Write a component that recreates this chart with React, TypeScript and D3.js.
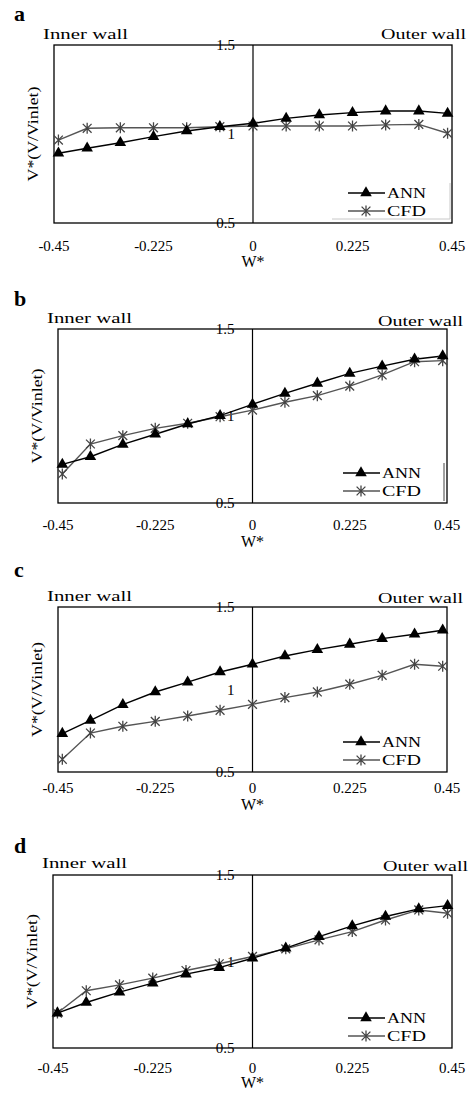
import React from 'react';
import * as d3 from 'd3';

// W* positions across the duct (inner wall -> outer wall)
const wPos = [-0.44, -0.375, -0.3, -0.225, -0.15, -0.075, 0, 0.075, 0.15, 0.225, 0.3, 0.375, 0.44];
const xTicks = [-0.45, -0.225, 0, 0.225, 0.45];
const yTicks = [0.5, 1, 1.5];

const annA = [0.892, 0.92, 0.951, 0.985, 1.017, 1.041, 1.06, 1.088, 1.107, 1.12, 1.129, 1.129, 1.116];
const cfdA = [0.966, 1.032, 1.035, 1.035, 1.035, 1.041, 1.045, 1.045, 1.045, 1.045, 1.051, 1.054, 1.004];

const annB = [0.722, 0.766, 0.837, 0.895, 0.954, 1.002, 1.067, 1.13, 1.188, 1.245, 1.287, 1.326, 1.345];
const cfdB = [0.667, 0.839, 0.887, 0.929, 0.958, 0.996, 1.034, 1.079, 1.117, 1.172, 1.236, 1.312, 1.318];

const annC = [0.733, 0.813, 0.908, 0.985, 1.045, 1.106, 1.153, 1.203, 1.242, 1.274, 1.308, 1.335, 1.359];
const cfdC = [0.577, 0.736, 0.777, 0.807, 0.839, 0.874, 0.91, 0.951, 0.985, 1.032, 1.086, 1.153, 1.141];

const annD = [0.702, 0.763, 0.823, 0.875, 0.927, 0.965, 1.019, 1.077, 1.144, 1.206, 1.26, 1.304, 1.323];
const cfdD = [0.702, 0.831, 0.865, 0.904, 0.948, 0.987, 1.029, 1.073, 1.125, 1.173, 1.24, 1.298, 1.279];

const FONT = '"Liberation Serif", "Times New Roman", serif';

// layout of each panel (pixels in the page)
const panels = [
  { letter: 'a', ann: annA, cfd: cfdA, x0: 54, x1: 452, y0: 45, y1: 223, letterY: 21, innerY: 39, outerY: 39, outerX: 466, tickY: 251, wY: 267, ylabX: 33, frame: 'a' },
  { letter: 'b', ann: annB, cfd: cfdB, x0: 58, x1: 447, y0: 329, y1: 503, letterY: 306, innerY: 323, outerY: 326, outerX: 463, tickY: 530, wY: 547, ylabX: 37, frame: 'b' },
  { letter: 'c', ann: annC, cfd: cfdC, x0: 58, x1: 447, y0: 607, y1: 772, letterY: 577, innerY: 601, outerY: 603, outerX: 463, tickY: 793, wY: 810, ylabX: 37, frame: '' },
  { letter: 'd', ann: annD, cfd: cfdD, x0: 53, x1: 452, y0: 875, y1: 1048, letterY: 853, innerY: 868, outerY: 871, outerX: 468, tickY: 1073, wY: 1088, ylabX: 32, frame: '' },
];

const triangle = d3.symbol(d3.symbolTriangle, 58)();

const asterisk = (cx: number, cy: number, r: number) => {
  const d = r * 0.8;
  return `M${cx},${cy - r}L${cx},${cy + r}M${cx - d},${cy - d}L${cx + d},${cy + d}M${cx - d},${cy + d}L${cx + d},${cy - d}`;
};

const Panel = ({ p }: { p: typeof panels[number] }) => {
  const x = d3.scaleLinear().domain([-0.45, 0.45]).range([p.x0, p.x1]);
  const y = d3.scaleLinear().domain([0.5, 1.5]).range([p.y1, p.y0]);
  const line = d3.line<number>().x((_, i) => x(wPos[i])).y((v) => y(v));
  const xc = x(0);
  const legX = p.x1 - 104;
  const legY1 = y(0.5) - 30;
  const legY2 = y(0.5) - 12;

  return (
    <g fontFamily={FONT} fill="#000">
      <text x={14} y={p.letterY} fontSize={22} fontWeight="bold">{p.letter}</text>
      <text x={p.x0 - 11} y={p.innerY} fontSize={15} textLength={85} lengthAdjust="spacingAndGlyphs">Inner wall</text>
      <text x={p.outerX} y={p.outerY} fontSize={15} textAnchor="end" textLength={85} lengthAdjust="spacingAndGlyphs">Outer wall</text>

      <rect x={p.x0} y={p.y0} width={p.x1 - p.x0} height={p.y1 - p.y0} fill="none" stroke="#000" strokeWidth={1.3} />
      <line x1={xc} x2={xc} y1={p.y0} y2={p.y1} stroke="#000" strokeWidth={1.2} />

      {yTicks.map((t) => (
        <text key={t} x={xc - 18} y={y(t)} dy="0.35em" fontSize={15} textAnchor="end">{t}</text>
      ))}
      {xTicks.map((t) => (
        <text key={t} x={x(t)} y={p.tickY} fontSize={15} textAnchor="middle">{t}</text>
      ))}
      <text x={xc} y={p.wY} fontSize={16} textAnchor="middle">W*</text>
      <text transform={`translate(${p.ylabX},${(p.y0 + p.y1) / 2}) rotate(-90)`} dy="0.35em" fontSize={15} textAnchor="middle" textLength={95} lengthAdjust="spacingAndGlyphs">V*(V/Vinlet)</text>

      {p.frame === 'a' && (
        <path d={`M${legX - 16},${legY2 + 8}H${p.x1 - 2}V${legY1 - 10}`} fill="none" stroke="#c8c8c8" strokeWidth={1} />
      )}
      {p.frame === 'b' && (
        <line x1={p.x1 - 3} x2={p.x1 - 3} y1={legY1 - 10} y2={legY2 + 10} stroke="#444" strokeWidth={1} />
      )}

      <path d={line(p.cfd) || ''} fill="none" stroke="#555" strokeWidth={1.4} />
      <path d={line(p.ann) || ''} fill="none" stroke="#000" strokeWidth={1.4} />
      {p.cfd.map((v, i) => (
        <path key={'c' + i} d={asterisk(x(wPos[i]), y(v), 5.5)} stroke="#444" strokeWidth={1.3} fill="none" />
      ))}
      {p.ann.map((v, i) => (
        <path key={'a' + i} d={triangle} transform={`translate(${x(wPos[i])},${y(v)})`} fill="#000" />
      ))}

      <line x1={legX} x2={legX + 37} y1={legY1} y2={legY1} stroke="#000" strokeWidth={1.4} />
      <path d={triangle} transform={`translate(${legX + 18},${legY1})`} fill="#000" />
      <text x={legX + 39} y={legY1} dy="0.35em" fontSize={15} textLength={39} lengthAdjust="spacingAndGlyphs">ANN</text>
      <line x1={legX} x2={legX + 37} y1={legY2} y2={legY2} stroke="#555" strokeWidth={1.4} />
      <path d={asterisk(legX + 18, legY2, 5.5)} stroke="#444" strokeWidth={1.3} fill="none" />
      <text x={legX + 39} y={legY2} dy="0.35em" fontSize={15} textLength={39} lengthAdjust="spacingAndGlyphs">CFD</text>
    </g>
  );
};

export default function App() {
  return (
    <svg width={474} height={1095} style={{ position: 'absolute', left: 0, top: 0, background: '#fff' }}>
      <rect width={474} height={1095} fill="#fff" />
      {panels.map((p) => (
        <Panel key={p.letter} p={p} />
      ))}
    </svg>
  );
}
